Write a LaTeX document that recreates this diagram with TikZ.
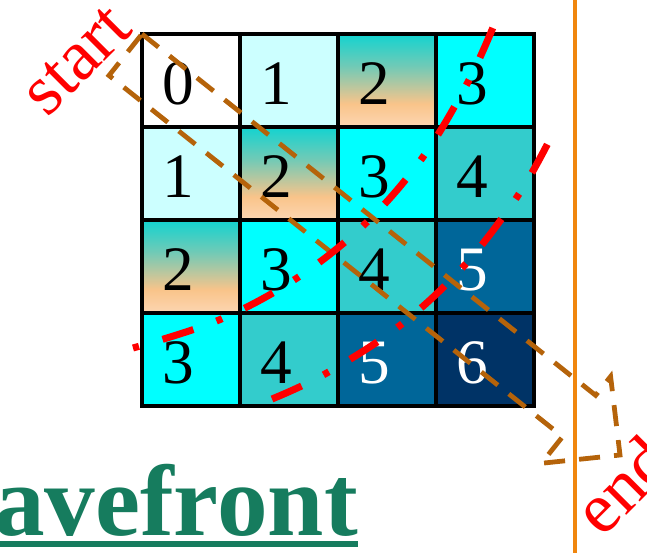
\documentclass[tikz,border=0pt]{standalone}
\usepackage{fontspec}
\setmainfont{Liberation Serif}
\usepackage{xcolor}
\usepackage{tikz}
\usetikzlibrary{calc}
\definecolor{lcyan}{HTML}{CCFFFF}
\definecolor{acyan}{HTML}{00FFFF}
\definecolor{tealc}{HTML}{33CCCC}
\definecolor{blue5}{HTML}{006699}
\definecolor{navy6}{HTML}{003366}
\definecolor{tealtop}{HTML}{12D3D0}
\definecolor{tealmid}{HTML}{72CAB6}
\definecolor{peach}{HTML}{F9C48A}
\definecolor{peachlt}{HTML}{FCD6B2}
\definecolor{arrowbrown}{HTML}{B5630A}
\definecolor{lineorange}{HTML}{F0860E}
\definecolor{titlegreen}{HTML}{167C5E}
\pgfdeclareverticalshading{tealpeach}{100bp}{color(0bp)=(peachlt); color(25bp)=(peachlt); color(37.5bp)=(peach); color(57.5bp)=(tealmid); color(75bp)=(tealtop); color(100bp)=(tealtop)}
\tikzset{
    cell0/.style={fill=white},
    cell1/.style={fill=lcyan},
    cell2/.style={shading=tealpeach},
    cell3/.style={fill=acyan},
    cell4/.style={fill=tealc},
    cell5/.style={fill=blue5},
    cell6/.style={fill=navy6},
    digit/.style={inner sep=0pt, font=\fontsize{45}{50}\selectfont},
    gridline/.style={draw=black, line width=2.2pt, line cap=rect},
    bandarrow/.style={draw=arrowbrown, line width=3.4pt, dash pattern=on 15pt off 10pt, line join=miter},
    wave/.style={draw=red, line width=5pt, dash pattern=on 23pt off 17.5pt on 4.4pt off 17.5pt},
    rotlabel/.style={text=red, rotate=45, inner sep=0pt, font=\fontsize{51}{53}\selectfont}
}

\begin{document}
\begin{tikzpicture}[x=0.025cm, y=-0.025cm]
    \clip (0,0) rectangle (647,553);
    \fill[white] (0,0) rectangle (647,553);

    \foreach \r in {0,...,3} {
        \foreach \c in {0,...,3} {
            \pgfmathtruncatemacro{\v}{\r+\c}
            \path[cell\v] (142+98*\c,34+93*\r) rectangle ++(98,93);
            \pgfmathsetmacro{\tc}{\v>4 ? "white" : "black"}
            \node (d\r\c) [digit, text=\tc] at (178+98*\c,84+93*\r) {\v};
        }
    }
    \foreach \k in {0,...,4} {
        \draw[gridline] (142+98*\k,34) -- (142+98*\k,406);
        \draw[gridline] (142,34+93*\k) -- (534,34+93*\k);
    }

    \draw[draw=lineorange, line width=3.5pt] (575,0) -- (575,553);

    \coordinate (tailup) at (142,34);
    \coordinate (taillow) at (109,75.5);
    \coordinate (shaftlow) at (562.6,436.7);
    \coordinate (barblow) at (541.4,463.3);
    \coordinate (tip) at (620,455);
    \coordinate (barbup) at (610.6,376.5);
    \coordinate (shaftup) at (595.6,395.3);
    \draw[bandarrow] (tailup) -- (shaftup) -- (barbup) -- (tip) -- (barblow) -- (shaftlow) -- (taillow) -- cycle;

    \draw[wave, dash phase=40.5pt] plot[smooth, tension=0.6] coordinates {(133,348) (219,320) (297,278) (366,223) (423,157) (468,82) (494,25)};
    \draw[wave] plot[smooth, tension=0.6] coordinates {(272,399) (325,374) (398,327) (463,267) (517,197) (548,143)};

    \node (start) [rotlabel] at (77,61) {start};
    \node (end) [rotlabel] at (622,485) {end};

    \node (title) [anchor=base east, inner sep=0pt, text=titlegreen, font=\bfseries\fontsize{72}{80}\selectfont] at (358,535) {wavefront};
    \draw[titlegreen, line width=4.3pt] ($(title.base west)+(0,9)$) -- ($(title.base east)+(0,9)$);
\end{tikzpicture}
\end{document}
